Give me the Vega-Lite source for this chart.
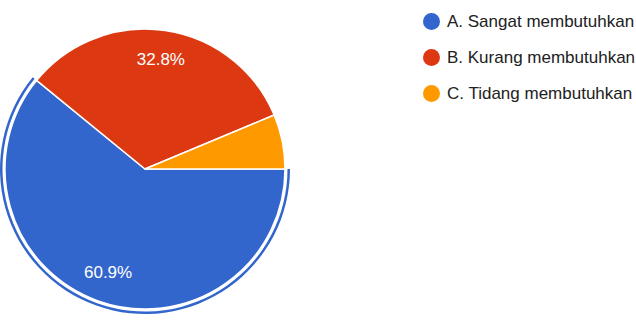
{
  "$schema": "https://vega.github.io/schema/vega-lite/v6.json",
  "width": 290,
  "height": 330,
  "padding": {"left": 0, "top": 4, "right": 0, "bottom": 0},
  "autosize": {"type": "pad"},
  "background": "white",
  "data": {
    "values": [
      {"cat": "A. Sangat membutuhkan", "pct": 0.609, "label": "60.9%", "idx": 1},
      {"cat": "B. Kurang membutuhkan", "pct": 0.328, "label": "32.8%", "idx": 2},
      {"cat": "C. Tidang membutuhkan", "pct": 0.063, "label": "", "idx": 3}
    ]
  },
  "encoding": {
    "theta": {"field": "pct", "type": "quantitative", "stack": true, "scale": {"range": [1.5708, 7.854]}},
    "order": {"field": "idx", "type": "quantitative"}
  },
  "layer": [
    {
      "mark": {"type": "arc", "outerRadius": 145, "innerRadius": 142.5, "color": "#3366cc"},
      "encoding": {
        "opacity": {"condition": {"test": "datum.idx == 1", "value": 1}, "value": 0}
      }
    },
    {
      "mark": {"type": "arc", "outerRadius": 140, "stroke": "white", "strokeWidth": 1.5},
      "encoding": {
        "color": {
          "field": "cat",
          "type": "nominal",
          "scale": {
            "domain": ["A. Sangat membutuhkan", "B. Kurang membutuhkan", "C. Tidang membutuhkan"],
            "range": ["#3366cc", "#dc3912", "#ff9900"]
          },
          "legend": {
            "orient": "none",
            "legendX": 423,
            "legendY": 9,
            "title": null,
            "padding": 0,
            "symbolType": "circle",
            "symbolSize": 289,
            "symbolStrokeWidth": 0,
            "symbolOpacity": 1,
            "rowPadding": 18,
            "labelFont": "Liberation Sans",
            "labelFontSize": 17,
            "labelColor": "#212121",
            "labelOffset": 7,
            "labelLimit": 300
          }
        }
      }
    },
    {
      "mark": {"type": "text", "radius": 110, "color": "white", "font": "Liberation Sans", "fontSize": 17},
      "encoding": {"text": {"field": "label", "type": "nominal"}}
    }
  ]
}
